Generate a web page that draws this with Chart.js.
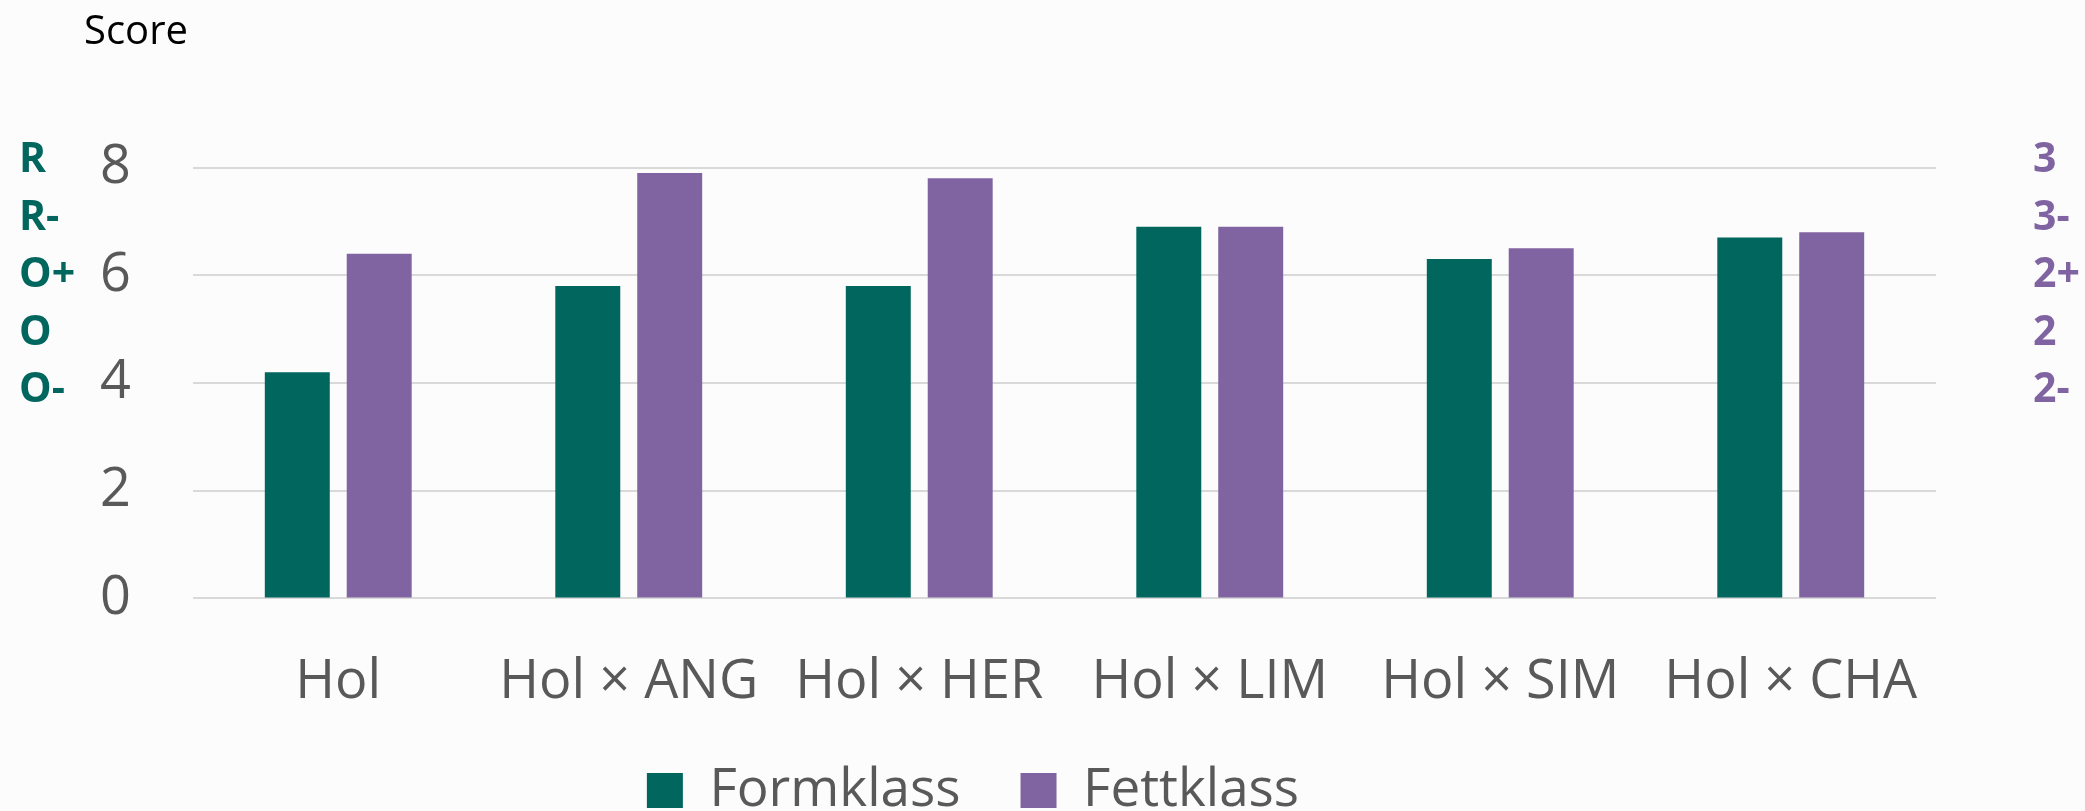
<!DOCTYPE html>
<html>
<head>
<meta charset="utf-8">
<script src="https://cdn.jsdelivr.net/npm/chart.js@4.4.1/dist/chart.umd.min.js"></script>
<style>
  html, body { margin: 0; padding: 0; background: #fcfcfc; overflow: hidden; width: 2085px; height: 811px; }
  #wrap { position: absolute; left: 0; top: 0; width: 2085px; height: 811px; overflow: hidden; }
  canvas { position: absolute; left: 0; top: 0; }
  .lbl { position: absolute; font-family: "Open Sans", sans-serif; white-space: pre; }
  #score { left: 84px; top: 6px; font-size: 40px; color: #000; line-height: 46px; }
  #leftLbl { left: 19px; top: 128px; font-size: 41px; font-weight: bold; color: #00665e; line-height: 57.5px; }
  #rightLbl { left: 2033px; top: 128px; font-size: 41px; font-weight: bold; color: #8064a2; line-height: 57.5px; }
</style>
</head>
<body>
<div id="wrap">
  <canvas id="c" width="2085" height="827"></canvas>
  <div class="lbl" id="score"></div>
  <div class="lbl" id="leftLbl"></div>
  <div class="lbl" id="rightLbl"></div>
</div>
<script>
const categories = ['Hol', 'Hol × ANG', 'Hol × HER', 'Hol × LIM', 'Hol × SIM', 'Hol × CHA'];
const formklass = [4.2, 5.8, 5.8, 6.9, 6.3, 6.7];
const fettklass = [6.4, 7.9, 7.8, 6.9, 6.5, 6.8];
const yTicks = [0, 2, 4, 6, 8];
const axisTitle = 'Score';
const leftGrades = ['R', 'R-', 'O+', 'O', 'O-'];
const rightGrades = ['3', '3-', '2+', '2', '2-'];
const seriesNames = ['Formklass', 'Fettklass'];

document.getElementById('score').textContent = axisTitle;
document.getElementById('leftLbl').innerHTML = leftGrades.map(s => '<div>' + s + '</div>').join('');
document.getElementById('rightLbl').innerHTML = rightGrades.map(s => '<div>' + s + '</div>').join('');

const grey = '#595959';
const font = 'Open Sans';

new Chart(document.getElementById('c'), {
  type: 'bar',
  data: {
    labels: categories,
    datasets: [
      { label: seriesNames[0], data: formklass, backgroundColor: '#00665e', borderWidth: 0,
        categoryPercentage: 0.564, barPercentage: 0.793 },
      { label: seriesNames[1], data: fettklass, backgroundColor: '#8064a2', borderWidth: 0,
        categoryPercentage: 0.564, barPercentage: 0.793 }
    ]
  },
  options: {
    responsive: false,
    animation: false,
    devicePixelRatio: 1,
    layout: { padding: { top: 167.5, right: 149, left: 10, bottom: 0 } },
    plugins: {
      tooltip: { enabled: false },
      legend: {
        position: 'bottom',
        labels: {
          boxWidth: 36, boxHeight: 35, padding: 60,
          color: grey,
          font: { family: font, size: 53 }
        }
      }
    },
    scales: {
      x: {
        grid: { display: false },
        border: { display: false },
        ticks: { color: grey, font: { family: font, size: 54 }, padding: 43.6, maxRotation: 0, autoSkip: false },
        afterFit: (s) => { s.height = 105.6; }
      },
      y: {
        min: 0, max: 8,
        afterBuildTicks: (s) => { s.ticks = yTicks.map(v => ({ value: v })); },
        grid: { color: '#d9d9d9', lineWidth: 2, drawTicks: false },
        border: { display: false },
        ticks: { color: grey, font: { family: font, size: 54 }, padding: 62 },
        afterFit: (s) => { s.width = 183; }
      }
    }
  }
});
</script>
</body>
</html>
